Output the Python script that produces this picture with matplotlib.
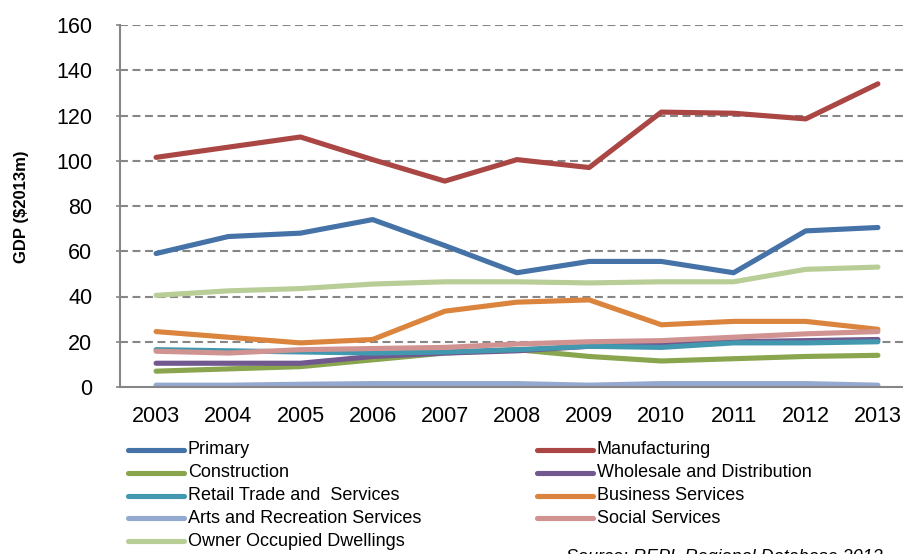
import matplotlib
matplotlib.use("Agg")
import matplotlib.pyplot as plt
from matplotlib.lines import Line2D

plt.rcParams['font.family'] = ['Liberation Sans', 'DejaVu Sans']

years = ["2003", "2004", "2005", "2006", "2007", "2008", "2009", "2010", "2011", "2012", "2013"]
primary = [59, 66.5, 68, 74, 62.5, 50.5, 55.5, 55.5, 50.5, 69, 70.5]
manufacturing = [101.5, 106, 110.5, 100.5, 91, 100.5, 97, 121.5, 121, 118.5, 134]
construction = [7, 8, 9, 12, 15, 16.5, 13.5, 11.5, 12.5, 13.5, 14]
wholesale = [10.5, 10.5, 10.5, 13.5, 15, 16, 18, 19.5, 20, 20.5, 21]
retail = [16.5, 16, 15.5, 15, 15.5, 16.5, 18, 17.5, 19.5, 19.5, 20]
business = [24.5, 22, 19.5, 21, 33.5, 37.5, 38.5, 27.5, 29, 29, 25.5]
arts = [0.8, 0.8, 1.2, 1.5, 1.5, 1.5, 0.8, 1.5, 1.5, 1.5, 0.8]
social = [15.8, 15, 16.5, 17, 17.5, 19, 20, 20.5, 22, 23.5, 24.5]
owner = [40.5, 42.5, 43.5, 45.5, 46.5, 46.5, 46, 46.5, 46.5, 52, 53]

series = [
    ("Primary", primary, "#4572A7"),
    ("Manufacturing", manufacturing, "#AA4643"),
    ("Construction", construction, "#89A54E"),
    ("Wholesale and Distribution", wholesale, "#71588F"),
    ("Retail Trade and  Services", retail, "#4198AF"),
    ("Business Services", business, "#DB843D"),
    ("Arts and Recreation Services", arts, "#93A9CF"),
    ("Social Services", social, "#D19392"),
    ("Owner Occupied Dwellings", owner, "#B9CD96"),
]

W, H = 904, 554
fig = plt.figure(figsize=(W / 100, H / 100), dpi=100)
left, right, top, bottom = 120, 914, 25, 387
ax = fig.add_axes([left / W, 1 - bottom / H, (right - left) / W, (bottom - top) / H])

gray = "#868686"
xs = list(range(len(years)))
for name, vals, col in series:
    ax.plot(xs, vals, color=col, lw=3.7, solid_capstyle='round', solid_joinstyle='round', clip_on=False)

ax.set_xlim(-0.5, len(years) - 0.5)
ax.set_ylim(0, 160)
ax.set_yticks(range(0, 161, 20))
for yv in range(20, 161, 20):
    ax.axhline(yv, color=gray, lw=1.5, dashes=(3.8, 2.2), zorder=0)
ax.set_xticks(xs)
ax.set_xticklabels(years)
ax.tick_params(axis='x', length=0, pad=14, labelsize=15.5)
ax.tick_params(axis='y', length=3, width=1.2, color=gray, pad=17, labelsize=15.5)
for s in ['top', 'right']:
    ax.spines[s].set_visible(False)
for s in ['left', 'bottom']:
    ax.spines[s].set_color(gray)
    ax.spines[s].set_linewidth(1.5)

fig.text(22 / W, 1 - 207 / H, "GDP ($2013m)", rotation=90, fontsize=12, fontweight='bold',
         ha='center', va='center')

# legend (manual, two columns)
col_x = [(128, 184, 188), (537, 593, 597)]
row_y = [450, 472.8, 495.6, 518.4, 541.2]
for i, (name, vals, col) in enumerate(series):
    c = i % 2
    r = i // 2
    x0, x1, xt = col_x[c]
    y = 1 - row_y[r] / H
    fig.add_artist(Line2D([x0 / W, x1 / W], [y, y], transform=fig.transFigure, color=col,
                          lw=3.7, solid_capstyle='round'))
    fig.text(xt / W, y, name, fontsize=13, ha='left', va='center')

fig.text(566 / W, 1 - 549 / H, "Source: REPL Regional Database 2013", fontsize=13,
         style='italic', ha='left', va='top')

fig.savefig("out.png", dpi=100)
